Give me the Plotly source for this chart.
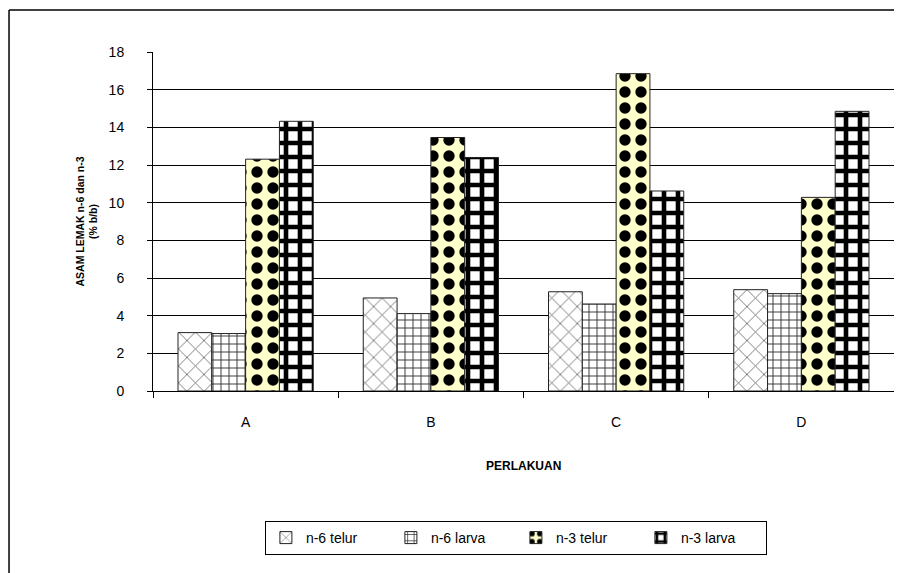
import plotly.graph_objects as go

categories = ["A", "B", "C", "D"]
n6_telur = [3.1, 4.94, 5.27, 5.38]
n6_larva = [3.05, 4.11, 4.62, 5.17]
n3_telur = [12.31, 13.46, 16.85, 10.28]
n3_larva = [14.32, 12.40, 10.62, 14.85]
series_names = ["n-6 telur", "n-6 larva", "n-3 telur", "n-3 larva"]
y_ticks = [0, 2, 4, 6, 8, 10, 12, 14, 16, 18]

FONT = "Arial, 'Liberation Sans', sans-serif"

styles = [
    dict(bg="white", fg="#555555", shape="x", size=12, solidity=0.12),
    dict(bg="white", fg="#333333", shape="+", size=8, solidity=0.22),
    dict(bg="#FFFFCC", fg="black", shape=".", size=16, solidity=0.4),
    dict(bg="white", fg="black", shape="+", size=14, solidity=0.55),
]

fig = go.Figure()
for name, vals, st in zip(series_names, [n6_telur, n6_larva, n3_telur, n3_larva], styles):
    fig.add_trace(go.Bar(
        x=categories, y=vals, name=name,
        marker=dict(
            color=st["bg"],
            line=dict(color="#222222", width=1),
            pattern=dict(shape=st["shape"], fgcolor=st["fg"], bgcolor=st["bg"],
                         size=st["size"], solidity=st["solidity"], fillmode="replace"),
        ),
    ))

fig.update_layout(
    width=894, height=565,
    margin=dict(l=145, r=8, t=44, b=182, autoexpand=False),
    paper_bgcolor="white", plot_bgcolor="white",
    barmode="group", bargap=0.27, bargroupgap=0,
    font=dict(family=FONT, size=13, color="black"),
    showlegend=True,
    legend=dict(
        orientation="h", x=0.151, y=-0.3835, xanchor="left", yanchor="top",
        bordercolor="black", borderwidth=1, bgcolor="white",
        font=dict(family=FONT, size=14, color="black"),
        entrywidth=80, entrywidthmode="pixels",
        itemwidth=30,
    ),
    xaxis=dict(
        type="category", showline=True, linecolor="black", linewidth=1,
        ticks="outside", ticklen=6, tickcolor="black", tickson="boundaries",
        ticklabelstandoff=18, showgrid=False, zeroline=False,
        tickfont=dict(size=14),
    ),
    yaxis=dict(
        range=[0, 18], tickvals=y_ticks, ticktext=[str(v) for v in y_ticks],
        showline=True, linecolor="black", linewidth=1,
        ticks="outside", ticklen=5, tickcolor="black",
        showgrid=True, gridcolor="black", gridwidth=1, zeroline=False,
        ticklabelstandoff=20, tickfont=dict(size=14),
    ),
    annotations=[
        dict(text="<b>ASAM LEMAK n-6 dan n-3<br>(% b/b)</b>", textangle=-90,
             xref="paper", yref="paper", x=-0.0904, y=0.5, showarrow=False,
             font=dict(size=10.5), xanchor="center", yanchor="middle"),
        dict(text="<b>PERLAKUAN</b>", xref="paper", yref="paper", x=0.5, y=-0.221,
             showarrow=False, font=dict(size=12), xanchor="center", yanchor="middle"),
    ],
    shapes=[
        dict(type="line", xref="paper", yref="paper", x0=-0.1943, x1=1.02, y0=1.1239, y1=1.1239,
             line=dict(color="black", width=1.5)),
        dict(type="line", xref="paper", yref="paper", x0=-0.1943, x1=-0.1943, y0=1.1239, y1=-0.6,
             line=dict(color="black", width=1.5)),
    ],
)

fig.write_html("out.html")
